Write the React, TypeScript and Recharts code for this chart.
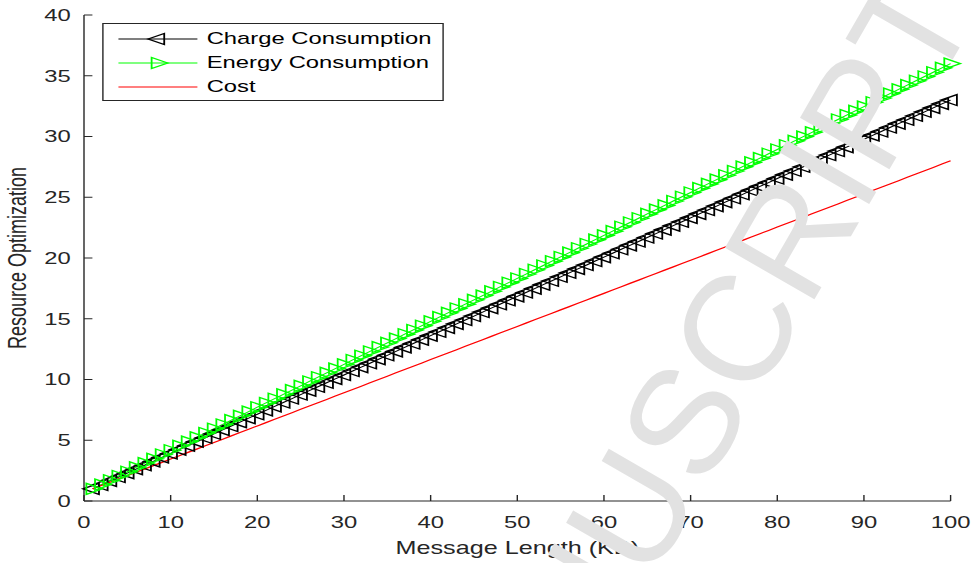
import { LineChart, Line, XAxis, YAxis, Legend } from 'recharts';

// x values (message length, KB)
const messageLength = [
  1, 2, 3, 4, 5, 6, 7, 8, 9, 10, 11, 12, 13, 14, 15, 16, 17, 18, 19, 20,
  21, 22, 23, 24, 25, 26, 27, 28, 29, 30, 31, 32, 33, 34, 35, 36, 37, 38, 39, 40,
  41, 42, 43, 44, 45, 46, 47, 48, 49, 50, 51, 52, 53, 54, 55, 56, 57, 58, 59, 60,
  61, 62, 63, 64, 65, 66, 67, 68, 69, 70, 71, 72, 73, 74, 75, 76, 77, 78, 79, 80,
  81, 82, 83, 84, 85, 86, 87, 88, 89, 90, 91, 92, 93, 94, 95, 96, 97, 98, 99, 100,
];

const chargeConsumption = [
  1.0, 1.32, 1.65, 1.97, 2.29, 2.62, 2.94, 3.26, 3.59, 3.91,
  4.23, 4.56, 4.88, 5.2, 5.53, 5.85, 6.17, 6.49, 6.82, 7.14,
  7.46, 7.79, 8.11, 8.43, 8.76, 9.08, 9.4, 9.73, 10.05, 10.37,
  10.7, 11.02, 11.34, 11.67, 11.99, 12.31, 12.64, 12.96, 13.28, 13.61,
  13.93, 14.25, 14.58, 14.9, 15.22, 15.55, 15.87, 16.19, 16.52, 16.84,
  17.16, 17.48, 17.81, 18.13, 18.45, 18.78, 19.1, 19.42, 19.75, 20.07,
  20.39, 20.72, 21.04, 21.36, 21.69, 22.01, 22.33, 22.66, 22.98, 23.3,
  23.63, 23.95, 24.27, 24.6, 24.92, 25.24, 25.57, 25.89, 26.21, 26.54,
  26.86, 27.18, 27.51, 27.83, 28.15, 28.47, 28.8, 29.12, 29.44, 29.77,
  30.09, 30.41, 30.74, 31.06, 31.38, 31.71, 32.03, 32.35, 32.68, 33.0,
];

const energyConsumption = [
  1.0, 1.35, 1.71, 2.06, 2.41, 2.77, 3.12, 3.47, 3.83, 4.18,
  4.54, 4.89, 5.24, 5.6, 5.95, 6.3, 6.66, 7.01, 7.36, 7.72,
  8.07, 8.42, 8.78, 9.13, 9.48, 9.84, 10.19, 10.55, 10.9, 11.25,
  11.61, 11.96, 12.31, 12.67, 13.02, 13.37, 13.73, 14.08, 14.43, 14.79,
  15.14, 15.49, 15.85, 16.2, 16.56, 16.91, 17.26, 17.62, 17.97, 18.32,
  18.68, 19.03, 19.38, 19.74, 20.09, 20.44, 20.8, 21.15, 21.51, 21.86,
  22.21, 22.57, 22.92, 23.27, 23.63, 23.98, 24.33, 24.69, 25.04, 25.39,
  25.75, 26.1, 26.45, 26.81, 27.16, 27.52, 27.87, 28.22, 28.58, 28.93,
  29.28, 29.64, 29.99, 30.34, 30.7, 31.05, 31.4, 31.76, 32.11, 32.46,
  32.82, 33.17, 33.53, 33.88, 34.23, 34.59, 34.94, 35.29, 35.65, 36.0,
];

const cost = [
  1.0, 1.27, 1.55, 1.82, 2.09, 2.36, 2.64, 2.91, 3.18, 3.45,
  3.73, 4.0, 4.27, 4.55, 4.82, 5.09, 5.36, 5.64, 5.91, 6.18,
  6.45, 6.73, 7.0, 7.27, 7.55, 7.82, 8.09, 8.36, 8.64, 8.91,
  9.18, 9.45, 9.73, 10.0, 10.27, 10.55, 10.82, 11.09, 11.36, 11.64,
  11.91, 12.18, 12.45, 12.73, 13.0, 13.27, 13.55, 13.82, 14.09, 14.36,
  14.64, 14.91, 15.18, 15.45, 15.73, 16.0, 16.27, 16.55, 16.82, 17.09,
  17.36, 17.64, 17.91, 18.18, 18.45, 18.73, 19.0, 19.27, 19.55, 19.82,
  20.09, 20.36, 20.64, 20.91, 21.18, 21.45, 21.73, 22.0, 22.27, 22.55,
  22.82, 23.09, 23.36, 23.64, 23.91, 24.18, 24.45, 24.73, 25.0, 25.27,
  25.55, 25.82, 26.09, 26.36, 26.64, 26.91, 27.18, 27.45, 27.73, 28.0,
];

const xTicks = [0, 10, 20, 30, 40, 50, 60, 70, 80, 90, 100];
const yTicks = [0, 5, 10, 15, 20, 25, 30, 35, 40];

const data = messageLength.map((x, i) => ({
  x,
  charge: chargeConsumption[i],
  energy: energyConsumption[i],
  cost: cost[i],
}));

// the original figure is stretched sideways, so the chart is drawn narrow and scaled
const STRETCH = 1.4;
const CHART_W = 697;
const CHART_H = 563;
const AXIS = '#262626';
const FONT = '"Liberation Sans", Arial, Helvetica, sans-serif';
const TICK = 6;

const leftTri = (cx: number, cy: number) =>
  `M${cx - 7},${cy} L${cx + 4.5},${cy - 5.5} L${cx + 4.5},${cy + 5.5} Z`;
const rightTri = (cx: number, cy: number) =>
  `M${cx + 7},${cy} L${cx - 4.5},${cy - 5.5} L${cx - 4.5},${cy + 5.5} Z`;

const ChargeDot = (p: any) =>
  p.cx == null ? <g key={p.index} /> : (
    <path key={p.index} d={leftTri(p.cx, p.cy)} fill="none" stroke="#000" strokeWidth={1.3} />
  );

const EnergyDot = (p: any) =>
  p.cx == null ? <g key={p.index} /> : (
    <path key={p.index} d={rightTri(p.cx, p.cy)} fill="none" stroke="#00ff00" strokeWidth={1.3} />
  );

const BottomTick = ({ x, y, payload }: any) => (
  <g>
    <line x1={x} x2={x} y1={y} y2={y - TICK} stroke={AXIS} />
    <text x={x} y={y + 27} textAnchor="middle" fill={AXIS} fontSize={17} fontFamily={FONT}>
      {payload.value}
    </text>
  </g>
);

const LeftTick = ({ x, y, payload }: any) => (
  <g>
    <line x1={x} x2={x + TICK} y1={y} y2={y} stroke={AXIS} />
    <text x={x - 9.5} y={y + 6} textAnchor="end" fill={AXIS} fontSize={17} fontFamily={FONT}>
      {payload.value}
    </text>
  </g>
);

const TopTick = ({ x, y }: any) => (
  <line x1={x} x2={x} y1={y} y2={y + TICK} stroke={AXIS} />
);

const RightTick = ({ x, y }: any) => (
  <line x1={x - TICK} x2={x} y1={y} y2={y} stroke={AXIS} />
);

const legendItems = [
  { name: 'Charge Consumption', color: '#000000', marker: 'left' },
  { name: 'Energy Consumption', color: '#00ff00', marker: 'right' },
  { name: 'Cost', color: '#ff0000', marker: 'none' },
];

const renderLegend = () => (
  <div
    style={{
      width: 244,
      height: 78,
      boxSizing: 'border-box',
      border: `1px solid ${AXIS}`,
      background: '#fff',
      paddingTop: 3,
      fontFamily: FONT,
    }}
  >
    {legendItems.map((item) => (
      <div key={item.name} style={{ display: 'flex', alignItems: 'center', height: 24 }}>
        <svg width={74} height={24} style={{ display: 'block' }}>
          <line x1={10.6} x2={67} y1={12} y2={12} stroke={item.color} strokeWidth={1} />
          {item.marker === 'left' && (
            <path d={leftTri(38.8, 12)} fill="none" stroke={item.color} strokeWidth={1.3} />
          )}
          {item.marker === 'right' && (
            <path d={rightTri(38.8, 12)} fill="none" stroke={item.color} strokeWidth={1.3} />
          )}
        </svg>
        <span style={{ fontSize: 17, color: '#000', lineHeight: '24px', whiteSpace: 'nowrap' }}>
          {item.name}
        </span>
      </div>
    ))}
  </div>
);

export default function App() {
  return (
    <div
      style={{
        position: 'absolute',
        left: 0,
        top: 0,
        width: 975,
        height: 563,
        overflow: 'hidden',
        background: '#fff',
      }}
    >
      <div style={{ width: CHART_W, height: CHART_H, transform: `scale(${STRETCH}, 1)`, transformOrigin: '0 0' }}>
        <LineChart
          width={CHART_W}
          height={CHART_H}
          data={data}
          margin={{ top: 15, right: 18, left: 0, bottom: 0 }}
        >
          <XAxis
            dataKey="x"
            type="number"
            domain={[0, 100]}
            ticks={xTicks}
            interval={0}
            height={62}
            tickSize={0}
            tickMargin={0}
            tickLine={false}
            axisLine={{ stroke: AXIS }}
            tick={(p: any) => <BottomTick {...p} />}
            label={{
              value: 'Message Length (KB)',
              position: 'insideBottom',
              offset: 9,
              fontSize: 18,
              fill: AXIS,
              fontFamily: FONT,
            }}
          />
          <XAxis
            xAxisId="top"
            orientation="top"
            type="number"
            domain={[0, 100]}
            allowDataOverflow
            ticks={xTicks}
            interval={0}
            height={0}
            tickSize={0}
            tickMargin={0}
            tickLine={false}
            axisLine={{ stroke: AXIS }}
            tick={(p: any) => <TopTick {...p} />}
          />
          <YAxis
            type="number"
            domain={[0, 40]}
            ticks={yTicks}
            interval={0}
            width={60}
            tickSize={0}
            tickMargin={0}
            tickLine={false}
            axisLine={{ stroke: AXIS }}
            tick={(p: any) => <LeftTick {...p} />}
            label={{
              value: 'Resource Optimization',
              angle: -90,
              position: 'insideLeft',
              offset: 12,
              textAnchor: 'middle',
              fontSize: 18,
              fill: AXIS,
              fontFamily: FONT,
            }}
          />
          <YAxis
            yAxisId="right"
            orientation="right"
            type="number"
            domain={[0, 40]}
            allowDataOverflow
            ticks={yTicks}
            interval={0}
            width={0}
            tickSize={0}
            tickMargin={0}
            tickLine={false}
            axisLine={{ stroke: AXIS }}
            tick={(p: any) => <RightTick {...p} />}
          />
          <Legend
            layout="vertical"
            align="center"
            verticalAlign="middle"
            content={renderLegend}
            wrapperStyle={{ left: 72.6, top: 23.3, width: 244, height: 78 }}
          />
          <Line
            type="linear"
            dataKey="charge"
            name="Charge Consumption"
            stroke="#000000"
            strokeWidth={1}
            dot={(p: any) => <ChargeDot key={p.index} {...p} />}
            activeDot={false}
            isAnimationActive={false}
          />
          <Line
            type="linear"
            dataKey="energy"
            name="Energy Consumption"
            stroke="#00ff00"
            strokeWidth={1}
            dot={(p: any) => <EnergyDot key={p.index} {...p} />}
            activeDot={false}
            isAnimationActive={false}
          />
          <Line
            type="linear"
            dataKey="cost"
            name="Cost"
            stroke="#ff0000"
            strokeWidth={1.2}
            dot={false}
            activeDot={false}
            isAnimationActive={false}
          />
        </LineChart>
      </div>
      <svg
        width={975}
        height={563}
        style={{ position: 'absolute', left: 0, top: 0, pointerEvents: 'none' }}
      >
        <text
          x={979}
          y={14}
          transform="rotate(-60 979 14)"
          textAnchor="end"
          fontSize={150}
          fontFamily={FONT}
          fill="#e2e2e2"
        >
          MANUSCRIPT
        </text>
      </svg>
    </div>
  );
}
